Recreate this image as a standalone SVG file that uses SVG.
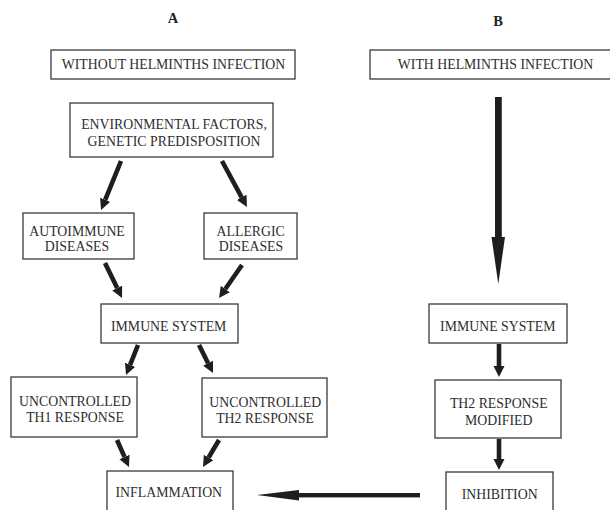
<svg xmlns="http://www.w3.org/2000/svg" width="610" height="510" viewBox="0 0 610 510">
<defs>
<style>
text{font-family:"Liberation Serif","Times New Roman",serif;font-size:13.8px;fill:#2e2e2e;text-anchor:middle}
.t{font-weight:bold;font-size:14.5px;fill:#222}
rect{fill:#fff;stroke:#3a3a3a;stroke-width:1.3}
.c line{stroke:#1e1e1e;stroke-width:4.6}
.h{fill:#1e1e1e}
</style>
<marker id="ah" markerUnits="userSpaceOnUse" markerWidth="12" markerHeight="12" refX="0" refY="5.5" orient="auto" viewBox="0 0 12 11">
<path d="M0,0 L11,5.5 L0,11 Z" fill="#1e1e1e"/>
</marker>
</defs>
<rect x="0" y="0" width="610" height="510" style="fill:#fff;stroke:none"/>
<text class="t" x="173" y="22.7">A</text>
<text class="t" x="498" y="25.7">B</text>

<g id="without"><rect x="51" y="50" width="244" height="29"/><text x="173.5" y="69">WITHOUT HELMINTHS INFECTION</text></g>
<g id="with"><rect x="370" y="50" width="252" height="29"/><text x="495.5" y="69">WITH HELMINTHS INFECTION</text></g>
<g id="env"><rect x="70" y="103" width="203" height="54"/><text x="174" y="129">ENVIRONMENTAL FACTORS,</text><text x="174" y="145.7">GENETIC PREDISPOSITION</text></g>
<g id="auto"><rect x="23" y="213" width="111" height="46"/><text x="77" y="235.7">AUTOIMMUNE</text><text x="77" y="251">DISEASES</text></g>
<g id="allergic"><rect x="204" y="213" width="93" height="46"/><text x="250.7" y="235.7">ALLERGIC</text><text x="251" y="251">DISEASES</text></g>
<g id="immuneA"><rect x="101" y="304" width="137" height="39"/><text x="168.7" y="330.7">IMMUNE SYSTEM</text></g>
<g id="immuneB"><rect x="429" y="304" width="138" height="39"/><text x="497.8" y="330.7">IMMUNE SYSTEM</text></g>
<g id="th1"><rect x="11" y="377" width="126" height="60"/><text x="75" y="405.7">UNCONTROLLED</text><text x="75" y="422.3">TH1 RESPONSE</text></g>
<g id="th2"><rect x="202" y="378" width="125" height="59"/><text x="265.3" y="406.7">UNCONTROLLED</text><text x="265" y="423">TH2 RESPONSE</text></g>
<g id="th2mod"><rect x="435" y="380" width="126" height="58"/><text x="498.8" y="408.3">TH2 RESPONSE</text><text x="498.7" y="425">MODIFIED</text></g>
<g id="inflammation"><rect x="107" y="471" width="126" height="50"/><text x="168.8" y="496.7">INFLAMMATION</text></g>
<g id="inhibition"><rect x="446" y="472" width="107" height="50"/><text x="499.7" y="499.3">INHIBITION</text></g>

<g id="connectors" class="c">
<line x1="121" y1="161" x2="105.2" y2="199.8" marker-end="url(#ah)"/>
<line x1="222" y1="161" x2="241.7" y2="197.3" marker-end="url(#ah)"/>
<line x1="105" y1="263" x2="117.2" y2="288.1" marker-end="url(#ah)"/>
<line x1="242" y1="265" x2="225.3" y2="289" marker-end="url(#ah)"/>
<line x1="138" y1="345" x2="130.1" y2="364.8" marker-end="url(#ah)"/>
<line x1="199" y1="345" x2="208.1" y2="363.2" marker-end="url(#ah)"/>
<line x1="117" y1="440" x2="124.5" y2="456.9" marker-end="url(#ah)"/>
<line x1="219" y1="440" x2="208.6" y2="457.5" marker-end="url(#ah)"/>
<line x1="499" y1="344" x2="499" y2="366" marker-end="url(#ah)"/>
<line x1="499" y1="439" x2="499" y2="459" marker-end="url(#ah)"/>
<rect x="495" y="97" width="6.8" height="141" class="h" style="stroke:none;fill:#1e1e1e"/>
<polygon class="h" points="491.5,237 505,237 498.3,284"/>
<rect x="297" y="493" width="123" height="4.4" style="stroke:none;fill:#1e1e1e"/>
<polygon class="h" points="299,490 299,500.5 257,495"/>
</g>
</svg>
